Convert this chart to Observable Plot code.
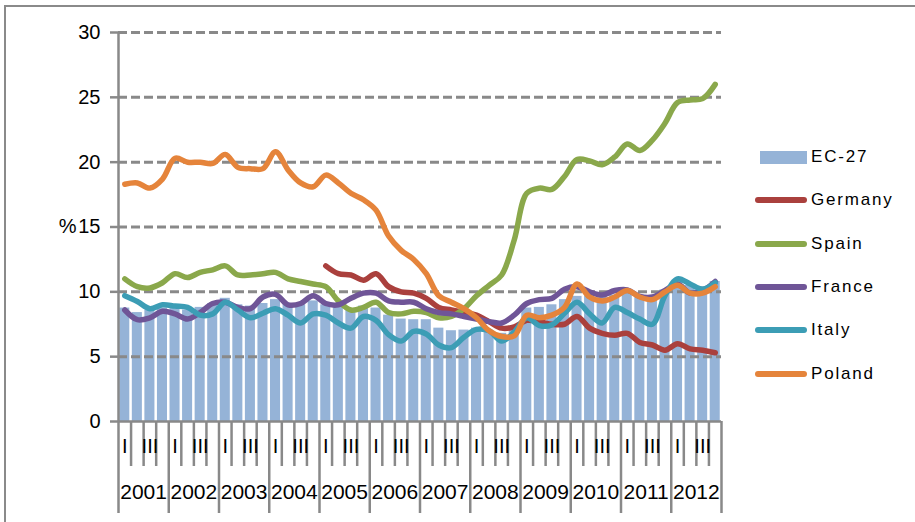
<!DOCTYPE html>
<html><head><meta charset="utf-8">
<script src="https://cdn.jsdelivr.net/npm/d3@7"></script>
<script src="https://cdn.jsdelivr.net/npm/@observablehq/plot@0.6"></script>
<style>
body{margin:0;background:#fff;}
#wrap{position:relative;width:915px;height:522px;overflow:hidden;font-family:"Liberation Sans",Arial,sans-serif;background:#fff;}
#frame{position:absolute;left:4px;top:5px;width:960px;height:600px;border-left:2px solid #8a8a8a;border-top:2px solid #8a8a8a;pointer-events:none;}
#legend{position:absolute;left:755px;top:135.4px;}
.row{display:flex;align-items:center;height:43.3px;font-size:17px;letter-spacing:1.8px;color:#000;}
.sw-line{width:52px;height:6px;border-radius:3px;margin-right:4px;}
.sw-bar{width:47px;height:13px;margin-left:5px;margin-right:4px;}
</style>
</head><body>
<div id="wrap"><div id="chart"></div><div id="legend"></div><div id="frame"></div></div>
<script>
// ---- data ----
const years = [2001,2002,2003,2004,2005,2006,2007,2008,2009,2010,2011,2012];
const quarterNames = ["I","II","III","IV"];
const yTicks = [0,5,10,15,20,25,30];
const yLabel = "%";
const barName = "EC-27";
const ec27 = [8.75,8.4,8.6,8.75, 8.75,8.6,8.8,9.1, 9.5,9.0,8.9,9.1, 9.4,9.1,9.0,9.3,
              9.0,8.8,8.6,8.9, 8.75,8.2,7.9,7.85, 7.85,7.2,7.0,7.05, 7.2,6.9,6.8,7.3,
              8.75,8.8,9.0,9.4, 9.65,9.7,9.6,9.75, 9.9,9.7,9.7,10.15, 10.8,10.5,10.4,10.8];
const seriesNames = ["Germany","Spain","France","Italy","Poland"];
const germany = [null,null,null,null, null,null,null,null, null,null,null,null, null,null,null,null,
              12.0,11.4,11.3,10.9, 11.4,10.4,10.0,9.9, 9.5,8.8,8.6,8.4, 8.2,7.7,7.2,7.3,
              7.8,7.7,7.5,7.5, 8.1,7.2,6.8,6.65, 6.8,6.1,5.9,5.5, 6.0,5.6,5.5,5.3];
const spain = [11.0,10.4,10.3,10.7, 11.4,11.1,11.5,11.7, 12.0,11.3,11.3,11.4, 11.5,11.0,10.8,10.6,
              10.4,9.3,8.6,8.8, 9.2,8.4,8.3,8.5, 8.4,8.0,8.1,8.7, 9.7,10.5,11.3,14.0,
              17.6,18.0,17.9,18.9, 20.2,20.1,19.8,20.4, 21.4,20.9,21.7,23.0, 24.6,24.8,24.9,26.0];
const france = [8.6,7.85,8.0,8.5, 8.3,7.9,8.4,9.1, 9.2,8.8,8.7,9.6, 9.8,9.0,9.1,9.7,
              9.1,9.0,9.5,9.9, 9.9,9.3,9.2,9.2, 8.7,8.4,8.3,8.1, 7.9,7.7,7.6,8.2,
              9.1,9.4,9.5,10.2, 10.4,10.0,9.75,10.1, 10.15,9.65,9.6,10.1, 10.6,9.9,10.1,10.8];
const italy = [9.7,9.25,8.7,9.0, 8.9,8.8,8.2,8.3, 9.2,8.6,8.0,8.35, 8.7,8.2,7.6,8.3,
              8.2,7.6,7.2,8.1, 7.8,6.7,6.2,6.95, 6.75,5.9,5.7,6.5, 7.1,7.0,6.2,6.9,
              8.0,7.4,7.45,8.35, 9.2,8.3,7.6,8.8, 8.4,7.9,7.5,9.7, 11.0,10.6,10.2,10.7];
const poland = [18.3,18.4,18.0,18.7, 20.3,20.0,20.0,19.9, 20.6,19.6,19.5,19.5, 20.8,19.4,18.4,18.1,
              19.0,18.4,17.6,17.1, 16.3,14.3,13.2,12.5, 11.4,9.7,9.2,8.7, 8.0,7.0,6.55,6.6,
              8.2,8.0,8.2,8.8, 10.6,9.6,9.3,9.6, 10.1,9.6,9.4,10.0, 10.5,9.9,9.9,10.4];
const seriesValues = [germany, spain, france, italy, poland];
const barColor = "#95B3D7";
const lineColors = ["#AA403D","#8AA84B","#6F5597","#3C9DB5","#E5843B"];
const gridColor = "#898989";

// ---- derived tables ----
const nQ = years.length * 4;
const barData = ec27.map((v, i) => ({q: i, v}));
const lineData = seriesNames.flatMap((name, k) => seriesValues[k].map((v, i) => ({name, q: i, v})));
const qLabels = years.flatMap((y, yi) => quarterNames.map((n, qi) => ({q: yi * 4 + qi, n})))
  .filter((d, i) => i % 2 === 0); // category labels shown every 2nd
const yearBounds = d3.range(0, nQ + 1, 4);
const quarterBounds = d3.range(0, nQ + 1).filter(b => b % 4 !== 0);

const chart = Plot.plot({
  width: 915, height: 522,
  marginLeft: 118, marginRight: 194, marginTop: 32, marginBottom: 101,
  style: {fontFamily: "'Liberation Sans', Arial, sans-serif", background: "transparent", color: "#000"},
  x: {domain: [0, nQ], axis: null},
  y: {domain: [0, 30], axis: null},
  color: {domain: seriesNames, range: lineColors},
  marks: [
    Plot.rectY(barData, {x1: d => d.q + 0.1, x2: d => d.q + 0.9, y: "v", fill: barColor}),
    Plot.ruleY(yTicks.filter(t => t > 0), {stroke: gridColor, strokeWidth: 3, strokeDasharray: "9,4"}),
    Plot.ruleY([0], {stroke: gridColor, strokeWidth: 2.5}),
    Plot.ruleX([0], {stroke: gridColor, strokeWidth: 2.5}),
    Plot.axisY(yTicks, {tickSize: 8, tickPadding: 10, fontSize: 20, stroke: gridColor, strokeWidth: 2.5, fill: "#000", label: null}),
    Plot.axisX(quarterBounds, {tickSize: 45, tickFormat: () => "", stroke: gridColor, strokeWidth: 2.5, label: null}),
    Plot.axisX(yearBounds, {tickSize: 92, tickFormat: () => "", stroke: gridColor, strokeWidth: 2.5, label: null}),
    Plot.text(qLabels, {x: d => d.q + 0.5, frameAnchor: "bottom", dy: 31, text: "n", fontSize: 20, fill: "#000"}),
    Plot.text(years, {x: (d, i) => i * 4 + 2, frameAnchor: "bottom", dy: 77, text: d => String(d), fontSize: 21, fill: "#000"}),
    Plot.text([yLabel], {frameAnchor: "left", dx: -42, textAnchor: "end", fontSize: 20, fill: "#000"}),
    Plot.line(lineData, {x: d => d.q + 0.5, y: "v", z: "name", stroke: "name", strokeWidth: 5.5,
      curve: "catmull-rom", strokeLinejoin: "round", strokeLinecap: "round"})
  ]
});
document.getElementById("chart").appendChild(chart);

// ---- legend ----
const legend = document.getElementById("legend");
const rows = [{name: barName, color: barColor, bar: true}]
  .concat(seriesNames.map((n, k) => ({name: n, color: lineColors[k], bar: false})));
for (const r of rows) {
  const row = document.createElement("div");
  row.className = "row";
  const sw = document.createElement("span");
  sw.className = r.bar ? "sw-bar" : "sw-line";
  sw.style.background = r.color;
  const t = document.createElement("span");
  t.textContent = r.name;
  row.appendChild(sw); row.appendChild(t);
  legend.appendChild(row);
}
</script>
</body></html>
